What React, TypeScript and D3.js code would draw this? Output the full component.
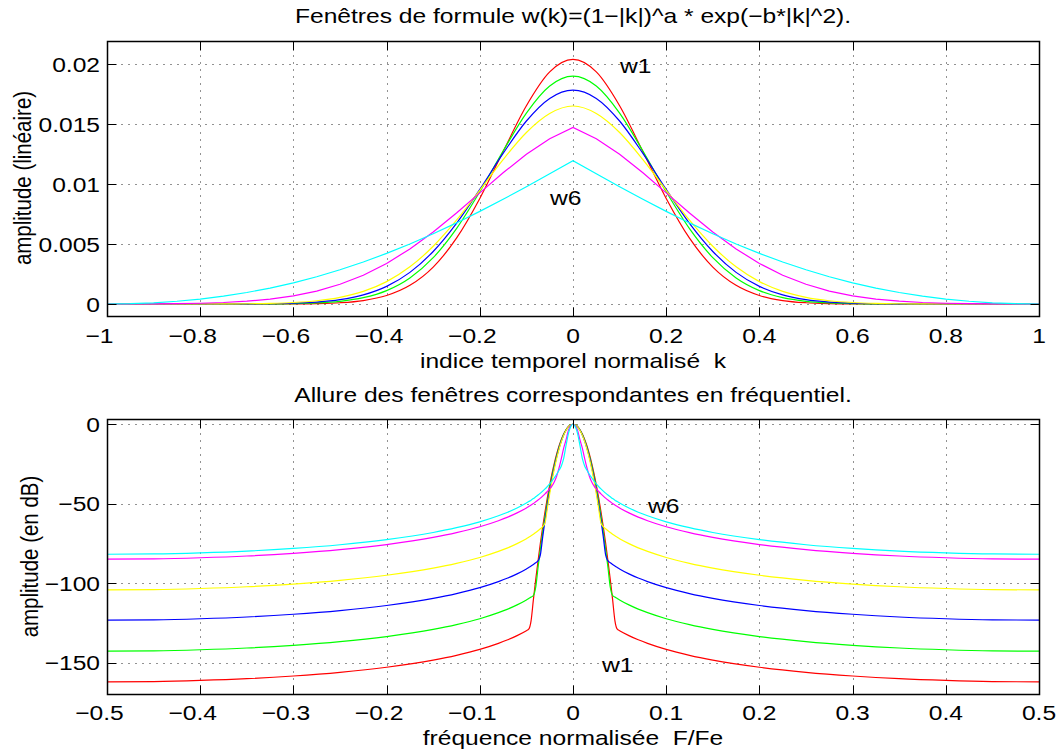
import React from 'react';
import * as d3 from 'd3';

// ---------- data (windows are even: values given for k >= 0 / f >= 0) ----------
const K_HALF = [0, 0.05, 0.1, 0.15, 0.2, 0.25, 0.3, 0.35, 0.4, 0.45, 0.5, 0.55, 0.6, 0.65, 0.7, 0.75, 0.8, 0.85, 0.9, 0.95, 1];
const W1 = [0.02042, 0.019376, 0.016552, 0.012731, 0.008816, 0.005496, 0.003085, 0.001559, 0.000709, 0.000291, 0.000107, 0.0000356, 0.0000106, 0.0000029, 0, 0, 0, 0, 0, 0, 0];
const W2 = [0.01902, 0.018197, 0.015934, 0.012772, 0.009369, 0.006292, 0.003867, 0.002176, 0.00112, 0.000528, 0.000228, 0.0000899, 0.0000325, 0.0000107, 0.0000033, 0.0000009, 0, 0, 0, 0, 0];
const W3 = [0.01786, 0.017168, 0.01528, 0.012573, 0.009569, 0.006737, 0.004387, 0.002642, 0.001472, 0.000759, 0.000361, 0.000159, 0.000065, 0.0000245, 0.0000086, 0.0000028, 0.0000008, 0, 0, 0, 0];
const W4 = [0.01653, 0.015908, 0.01432, 0.012057, 0.009496, 0.006995, 0.004819, 0.003105, 0.001871, 0.001054, 0.000555, 0.000273, 0.000126, 0.000054, 0.0000216, 0.0000081, 0.0000028, 0.0000009, 0, 0, 0];
const W5 = [0.01475, 0.013804, 0.012502, 0.010954, 0.009282, 0.007603, 0.006017, 0.004597, 0.003389, 0.002407, 0.001646, 0.001081, 0.00068, 0.000409, 0.000234, 0.000126, 0.0000634, 0.000029, 0.0000114, 0.0000033, 0];
const W6 = [0.01197, 0.01087, 0.009791, 0.008743, 0.007734, 0.006771, 0.005862, 0.005012, 0.004226, 0.003508, 0.002858, 0.002279, 0.00177, 0.001332, 0.000962, 0.000657, 0.000415, 0.000232, 0.000104, 0.0000273, 0];

const F_HALF = [0, 0.0025, 0.005, 0.0075, 0.01, 0.0125, 0.015, 0.0175, 0.02, 0.0225, 0.025, 0.0275, 0.03, 0.0325, 0.035, 0.0375, 0.04, 0.0425, 0.045, 0.0475, 0.05, 0.06, 0.07, 0.08, 0.1, 0.125, 0.15, 0.2, 0.25, 0.3, 0.35, 0.4, 0.45, 0.5];
const S1 = [0, -0.38, -1.53, -3.43, -6.1, -9.53, -13.7, -18.7, -24.4, -30.9, -38.1, -46.1, -54.9, -64.4, -74.7, -85.8, -97.6, -110.2, -123.5, -128.8, -129.7, -132.8, -135.45, -137.7, -141.5, -145.2, -148.2, -152.7, -155.9, -158.2, -159.9, -161.0, -161.7, -161.9];
const S2 = [0, -0.4, -1.6, -3.6, -6.4, -10.0, -14.4, -19.6, -25.6, -32.4, -40.0, -48.4, -57.6, -67.6, -78.4, -90.0, -102.4, -107.6, -108.6, -109.5, -110.4, -113.5, -116.15, -118.4, -122.2, -125.9, -128.9, -133.4, -136.6, -138.9, -140.6, -141.7, -142.4, -142.6];
const S3 = [0, -0.42, -1.68, -3.77, -6.7, -10.5, -15.1, -20.5, -26.8, -33.9, -41.9, -50.7, -60.3, -70.8, -82.1, -85.9, -87.0, -88.1, -89.1, -90.0, -90.9, -94.0, -96.65, -98.9, -102.7, -106.4, -109.4, -113.9, -117.1, -119.4, -121.1, -122.2, -122.9, -123.1];
const S4 = [0, -0.44, -1.75, -3.94, -7.0, -10.9, -15.75, -21.4, -28.0, -35.4, -43.75, -52.9, -62.0, -64.4, -65.7, -66.9, -68.0, -69.1, -70.1, -71.0, -71.9, -75.0, -77.65, -79.9, -83.7, -87.4, -90.4, -94.9, -98.1, -100.4, -102.1, -103.2, -103.9, -104.1];
const S5 = [0, -1, -4, -9.9, -15, -21.5, -27.5, -32.5, -36.2, -38.76, -40.6, -42.2, -43.75, -45.1, -46.4, -47.6, -48.7, -49.8, -50.8, -51.7, -52.6, -55.7, -58.35, -60.6, -64.4, -68.1, -71.1, -75.6, -78.8, -81.1, -82.8, -83.9, -84.6, -84.8];
const S6 = [0, -1.5, -6, -13.5, -21.5, -26.2, -28.9, -31.4, -33.6, -35.66, -37.5, -39.1, -40.65, -42.0, -43.3, -44.5, -45.6, -46.7, -47.7, -48.6, -49.5, -52.6, -55.25, -57.5, -61.3, -65.0, -68.0, -72.5, -75.7, -78.0, -79.7, -80.8, -81.5, -81.7];

const COLORS = ['#ff0000', '#00ff00', '#0000ff', '#ffff00', '#ff00ff', '#00ffff'];
const TOP_SERIES = [W1, W2, W3, W4, W5, W6];
const BOT_SERIES = [S1, S2, S3, S4, S5, S6];

const TOP_XTICKS = [-1, -0.8, -0.6, -0.4, -0.2, 0, 0.2, 0.4, 0.6, 0.8, 1];
const TOP_XLABELS = ['−1', '−0.8', '−0.6', '−0.4', '−0.2', '0', '0.2', '0.4', '0.6', '0.8', '1'];
const TOP_YTICKS = [0, 0.005, 0.01, 0.015, 0.02];
const TOP_YLABELS = ['0', '0.005', '0.01', '0.015', '0.02'];
const BOT_XTICKS = [-0.5, -0.4, -0.3, -0.2, -0.1, 0, 0.1, 0.2, 0.3, 0.4, 0.5];
const BOT_XLABELS = ['−0.5', '−0.4', '−0.3', '−0.2', '−0.1', '0', '0.1', '0.2', '0.3', '0.4', '0.5'];
const BOT_YTICKS = [-150, -100, -50, 0];
const BOT_YLABELS = ['−150', '−100', '−50', '0'];

const TOP_TITLE = 'Fenêtres de formule w(k)=(1−|k|)^a * exp(−b*|k|^2).';
const BOT_TITLE = 'Allure des fenêtres correspondantes en fréquentiel.';

// ---------- layout ----------
const W = 1060, H = 754;
const FONT = '"Liberation Sans", Arial, Helvetica, sans-serif';
const FS = 20.5;
const SX = 1.2;
const TICK = 9;

function mirror(xs: number[], ys: number[]): [number, number][] {
  const pts: [number, number][] = [];
  for (let i = xs.length - 1; i >= 1; i--) pts.push([-xs[i], ys[i]]);
  for (let i = 0; i < xs.length; i++) pts.push([xs[i], ys[i]]);
  return pts;
}

function T({ x, y, anchor = 'middle', rot = false, children }: any) {
  return (
    <g transform={`translate(${x},${y}) scale(${SX},1)${rot ? ' rotate(-90)' : ''}`}>
      <text textAnchor={anchor} fontFamily={FONT} fontSize={FS} fill="#000" style={{ whiteSpace: 'pre' }}>
        {children}
      </text>
    </g>
  );
}

function Axes({ id, x, y, xticks, xlabels, yticks, ylabels, xTickBase, series, xs, curves }: any) {
  const [x0, x1] = x.range();
  const [y0, y1] = y.range(); // y0 bottom, y1 top
  const L = Math.round(x0) + 0.5, R = Math.round(x1) + 0.5;
  const B = Math.round(y0) + 0.5, Tp = Math.round(y1) + 0.5;
  return (
    <g>
      <defs>
        <clipPath id={id}>
          <rect x={L} y={Tp} width={R - L} height={B - Tp} />
        </clipPath>
      </defs>
      {/* grid */}
      <g stroke="#000" strokeWidth={1} strokeDasharray="1 6" opacity={0.85}>
        {xticks.map((t: number, i: number) => {
          const px = Math.round(x(t)) + 0.5;
          return <line key={'gx' + i} x1={px} x2={px} y1={Tp} y2={B} />;
        })}
        {yticks.map((t: number, i: number) => {
          const py = Math.round(y(t)) + 0.5;
          return <line key={'gy' + i} x1={L} x2={R} y1={py} y2={py} />;
        })}
      </g>
      {/* data */}
      <g clipPath={`url(#${id})`} fill="none" strokeWidth={1.2}>
        {series.map((s: number[], i: number) => {
          const gen = d3.line<[number, number]>().x(d => x(d[0])).y(d => y(d[1])).curve(curves[i]);
          return <path key={'s' + i} d={gen(mirror(xs, s)) || ''} stroke={COLORS[i]} />;
        })}
      </g>
      {/* ticks */}
      <g stroke="#000" strokeWidth={1}>
        {xticks.map((t: number, i: number) => {
          const px = Math.round(x(t)) + 0.5;
          return (
            <g key={'tx' + i}>
              <line x1={px} x2={px} y1={B} y2={B - TICK} />
              <line x1={px} x2={px} y1={Tp} y2={Tp + TICK} />
            </g>
          );
        })}
        {yticks.map((t: number, i: number) => {
          const py = Math.round(y(t)) + 0.5;
          return (
            <g key={'ty' + i}>
              <line x1={L} x2={L + TICK} y1={py} y2={py} />
              <line x1={R} x2={R - TICK} y1={py} y2={py} />
            </g>
          );
        })}
      </g>
      <rect x={L} y={Tp} width={R - L} height={B - Tp} fill="none" stroke="#000" strokeWidth={1.5} />
      {/* tick labels */}
      {xticks.map((t: number, i: number) => (
        <T key={'lx' + i} x={x(t) - (xlabels[i].startsWith('−') ? 7.5 : 0)} y={xTickBase}>
          {xlabels[i]}
        </T>
      ))}
      {yticks.map((t: number, i: number) => (
        <T key={'ly' + i} x={100} y={y(t) + 7.5} anchor="end">
          {ylabels[i]}
        </T>
      ))}
    </g>
  );
}

export default function App() {
  const xTop = d3.scaleLinear().domain([-1, 1]).range([107, 1039]);
  const yTop = d3.scaleLinear().domain([-0.001, 0.022]).range([316, 40.5]);
  const xBot = d3.scaleLinear().domain([-0.5, 0.5]).range([107, 1039]);
  const yBot = d3.scaleLinear().domain([-169.5, 3.3]).range([694, 419]);

  const topCurves = [d3.curveMonotoneX, d3.curveMonotoneX, d3.curveMonotoneX, d3.curveMonotoneX, d3.curveLinear, d3.curveLinear];
  const botCurves = [d3.curveMonotoneX, d3.curveMonotoneX, d3.curveMonotoneX, d3.curveMonotoneX, d3.curveMonotoneX, d3.curveMonotoneX];

  return (
    <svg width={W} height={H} style={{ position: 'absolute', left: 0, top: 0, background: '#fff' }}>
      <rect x={0} y={0} width={W} height={H} fill="#fff" />
      <Axes id="clipTop" x={xTop} y={yTop} xticks={TOP_XTICKS} xlabels={TOP_XLABELS} yticks={TOP_YTICKS}
        ylabels={TOP_YLABELS} xTickBase={343} series={TOP_SERIES} xs={K_HALF} curves={topCurves} />
      <Axes id="clipBot" x={xBot} y={yBot} xticks={BOT_XTICKS} xlabels={BOT_XLABELS} yticks={BOT_YTICKS}
        ylabels={BOT_YLABELS} xTickBase={720} series={BOT_SERIES} xs={F_HALF} curves={botCurves} />

      <T x={573} y={23}>{TOP_TITLE}</T>
      <T x={573} y={368}>{'indice temporel normalisé  k'}</T>
      <T x={31} y={178} rot>{'amplitude (linéaire)'}</T>
      <T x={620} y={73} anchor="start">w1</T>
      <T x={550} y={205} anchor="start">w6</T>

      <T x={573} y={402}>{BOT_TITLE}</T>
      <T x={573} y={745}>{'fréquence normalisée  F/Fe'}</T>
      <T x={38} y={556.5} rot>{'amplitude (en dB)'}</T>
      <T x={648} y={513} anchor="start">w6</T>
      <T x={602} y={672} anchor="start">w1</T>
    </svg>
  );
}
